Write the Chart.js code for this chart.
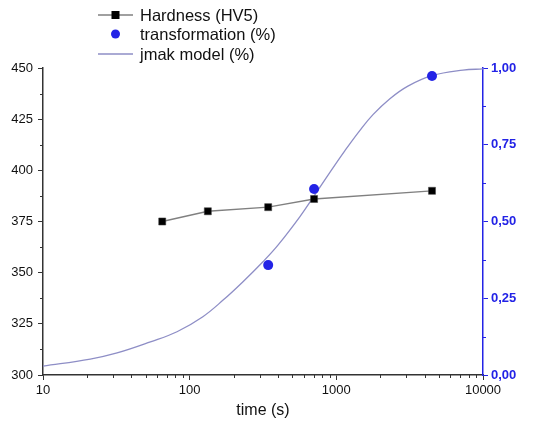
<!DOCTYPE html>
<html>
<head>
<meta charset="utf-8">
<script src="https://cdn.jsdelivr.net/npm/chart.js@4"></script>
<style>
html,body{margin:0;padding:0;background:#fff;}
#wrap{width:541px;height:432px;}
</style>
</head>
<body>
<div id="wrap"><canvas id="c" width="541" height="432"></canvas></div>
<script>
// Data
const hardnessTimes = [65, 133, 343, 705, 4490];
const hardness = [375, 380, 382, 386, 390];
const transTimes = [343, 705, 4490];
const transformation = [0.358, 0.606, 0.974];
const jmakTimes = [10, 21, 32, 54, 82, 123, 169, 231, 316, 400, 565, 714, 904, 1145, 1449, 1778, 2319, 3076, 4490, 7300, 10000];
const jmakValues = [0.029, 0.052, 0.072, 0.108, 0.141, 0.190, 0.244, 0.304, 0.369, 0.423, 0.516, 0.587, 0.660, 0.731, 0.797, 0.848, 0.900, 0.941, 0.975, 0.993, 0.997];
const xTickLabels = [10, 100, 1000, 10000];
const leftTicks = [300, 325, 350, 375, 400, 425, 450];
const rightTicks = [0, 0.25, 0.5, 0.75, 1];
const legendLabels = ['Hardness (HV5)', 'transformation (%)', 'jmak model (%)'];

const BLUE = '#2323e6';
const DARK = '#333333';
const JMAK = '#8e8ec6';
const FONT = "'Liberation Sans', Arial, sans-serif";

const toXY = (xs, ys) => xs.map((x, i) => ({x: x, y: ys[i]}));

const minorTicks = {
  id: 'minorTicks',
  afterDraw(chart) {
    const ctx = chart.ctx;
    const xs = chart.scales.x, yl = chart.scales.y, yr = chart.scales.y2;
    const a = chart.chartArea;
    ctx.save();
    ctx.lineWidth = 1;
    ctx.strokeStyle = DARK;
    for (let d = 10; d < 10000; d *= 10) {
      for (let k = 2; k <= 9; k++) {
        const px = Math.round(xs.getPixelForValue(d * k)) + 0.5;
        ctx.beginPath(); ctx.moveTo(px, a.bottom); ctx.lineTo(px, a.bottom + 3); ctx.stroke();
      }
    }
    for (let v = 312.5; v < 450; v += 25) {
      const py = Math.round(yl.getPixelForValue(v)) + 0.5;
      ctx.beginPath(); ctx.moveTo(a.left, py); ctx.lineTo(a.left - 3, py); ctx.stroke();
    }
    ctx.strokeStyle = BLUE;
    for (let v = 0.125; v < 1; v += 0.25) {
      const py = Math.round(yr.getPixelForValue(v)) + 0.5;
      ctx.beginPath(); ctx.moveTo(a.right, py); ctx.lineTo(a.right + 3, py); ctx.stroke();
    }
    ctx.restore();
  }
};

const customLegend = {
  id: 'customLegend',
  afterDraw(chart) {
    const ctx = chart.ctx;
    ctx.save();
    ctx.font = '16.5px ' + FONT;
    ctx.textBaseline = 'middle';
    const rows = [15, 34, 54];
    const x0 = 98, x1 = 133, xm = 115.5, tx = 140;
    ctx.strokeStyle = '#808080'; ctx.lineWidth = 1.3;
    ctx.beginPath(); ctx.moveTo(x0, rows[0]); ctx.lineTo(x1, rows[0]); ctx.stroke();
    ctx.fillStyle = '#000';
    ctx.fillRect(xm - 4, rows[0] - 4, 8, 8);
    ctx.fillStyle = BLUE;
    ctx.beginPath(); ctx.arc(xm, rows[1], 4.5, 0, Math.PI * 2); ctx.fill();
    ctx.strokeStyle = JMAK; ctx.lineWidth = 1.3;
    ctx.beginPath(); ctx.moveTo(x0, rows[2]); ctx.lineTo(x1, rows[2]); ctx.stroke();
    ctx.fillStyle = '#111';
    legendLabels.forEach((t, i) => ctx.fillText(t, tx, rows[i] + 1));
    ctx.restore();
  }
};

new Chart(document.getElementById('c'), {
  type: 'line',
  data: {
    datasets: [
      {
        label: legendLabels[2],
        data: toXY(jmakTimes, jmakValues),
        yAxisID: 'y2',
        borderColor: JMAK,
        borderWidth: 1.3,
        pointRadius: 0,
        tension: 0.4,
        fill: false,
        order: 3
      },
      {
        label: legendLabels[0],
        data: toXY(hardnessTimes, hardness),
        yAxisID: 'y',
        borderColor: '#808080',
        borderWidth: 1.3,
        pointStyle: 'rect',
        pointRadius: 5,
        pointBackgroundColor: '#000',
        pointBorderColor: '#444',
        pointBorderWidth: 0.5,
        tension: 0,
        fill: false,
        order: 2
      },
      {
        label: legendLabels[1],
        data: toXY(transTimes, transformation),
        yAxisID: 'y2',
        showLine: false,
        pointStyle: 'circle',
        pointRadius: 5,
        pointBackgroundColor: BLUE,
        pointBorderColor: BLUE,
        pointBorderWidth: 0,
        order: 1
      }
    ]
  },
  options: {
    responsive: false,
    animation: false,
    events: [],
    layout: {padding: {top: 68, left: 0, right: 0, bottom: 0}},
    plugins: {legend: {display: false}, tooltip: {enabled: false}},
    scales: {
      x: {
        type: 'logarithmic',
        min: 10, max: 10000,
        afterBuildTicks(s) { s.ticks = xTickLabels.map(v => ({value: v})); },
        afterFit(s) { s.height = 57; },
        border: {display: true, color: DARK, width: 1.5},
        grid: {drawOnChartArea: false, drawTicks: true, tickLength: 5, color: DARK, tickColor: DARK},
        ticks: {
          autoSkip: false, maxRotation: 0, padding: 3,
          color: '#111', font: {family: FONT, size: 13},
          callback: v => String(v)
        },
        title: {display: true, text: 'time (s)', color: '#111', font: {family: FONT, size: 16}, padding: {top: 5, bottom: 12}}
      },
      y: {
        type: 'linear', position: 'left',
        min: 300, max: 450,
        afterBuildTicks(s) { s.ticks = leftTicks.map(v => ({value: v})); },
        afterFit(s) { s.width = 43; },
        border: {display: true, color: DARK, width: 1.5},
        grid: {drawOnChartArea: false, drawTicks: true, tickLength: 5, color: DARK, tickColor: DARK},
        ticks: {padding: 5, color: '#111', font: {family: FONT, size: 13}, callback: v => String(v)}
      },
      y2: {
        type: 'linear', position: 'right',
        min: 0, max: 1,
        afterBuildTicks(s) { s.ticks = rightTicks.map(v => ({value: v})); },
        afterFit(s) { s.width = 58; },
        border: {display: true, color: BLUE, width: 1.5},
        grid: {drawOnChartArea: false, drawTicks: true, tickLength: 5, color: BLUE, tickColor: BLUE},
        ticks: {padding: 3, color: BLUE, font: {family: FONT, size: 13, weight: 'bold'}, callback: v => v.toFixed(2).replace('.', ',')}
      }
    }
  },
  plugins: [minorTicks, customLegend]
});
</script>
</body>
</html>
